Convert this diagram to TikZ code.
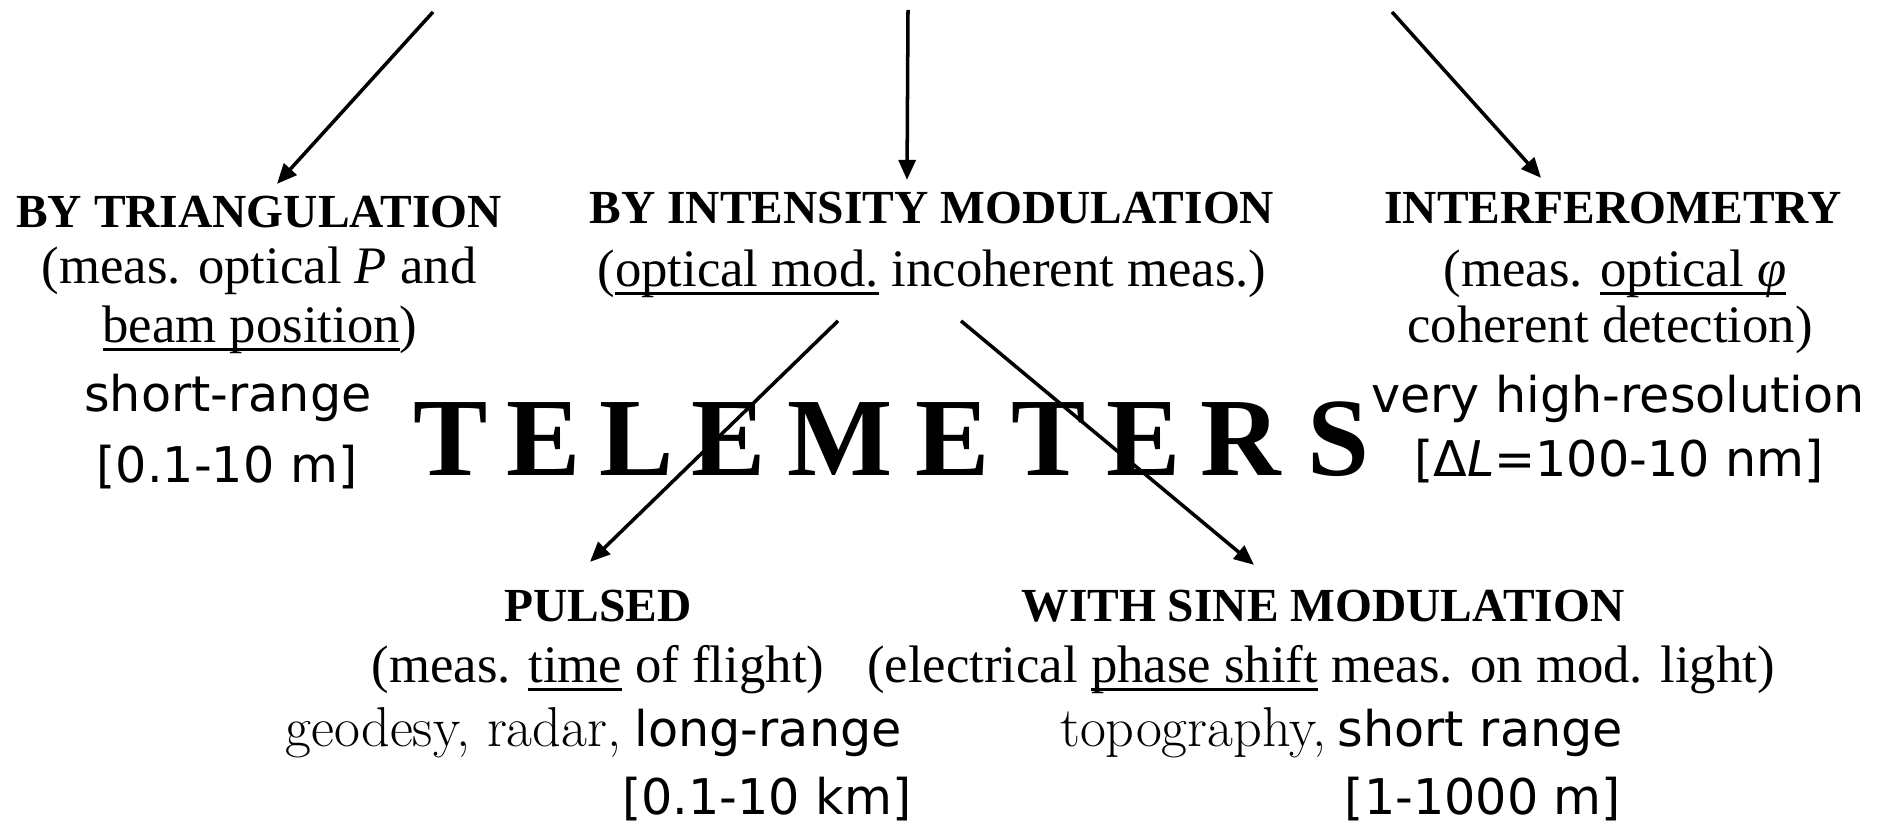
\documentclass[tikz,border=0pt]{standalone}
\usepackage{fontspec}
\setmainfont{Liberation Serif}
\newfontfamily\comicfont{DejaVu Sans}
\newfontfamily\palfont{Latin Modern Roman}
\usetikzlibrary{arrows.meta}
\newsavebox{\ulbox}
\newcommand{\undl}[1]{\sbox\ulbox{#1}\rlap{\rule[-2.2pt]{\wd\ulbox}{0.75pt}}\usebox\ulbox}

\begin{document}
\begin{tikzpicture}[x=1cm,y=1cm,
  head/.style={anchor=base,inner sep=0pt,font=\fontsize{13.5}{16}\selectfont\bfseries},
  desc/.style={anchor=base,inner sep=0pt,font=\fontsize{15}{18}\selectfont},
  usetxt/.style={anchor=base east,inner sep=0pt,font=\palfont\fontsize{16}{19}\selectfont},
  rangetxt/.style={anchor=base,inner sep=0pt,font=\comicfont\fontsize{14}{17}\selectfont},
  bigletter/.style={anchor=base,inner sep=0pt,font=\fontsize{31.7}{36}\selectfont\bfseries},
  arr/.style={-{Triangle[length=2mm,width=1.7mm]},line width=1pt}]
\path[use as bounding box] (0,0) rectangle (18.86,8.24);
\node[head] (tri) at (2.59,5.96) {BY TRIANGULATION};
\node[desc] (tridesc1) at (2.59,5.40) {(meas. optical \textit{P} and};
\node[desc] (tridesc2) at (2.60,4.81) {\undl{beam position})};
\node[rangetxt] (trirng1) at (2.28,4.12) {short-range};
\node[rangetxt] (trirng2) at (2.27,3.41) {[0.1-10 m]};
\node[head] (ints) at (9.32,6.00) {BY INTENSITY MODULATION};
\node[desc] (intdesc) at (9.32,5.37) {(\undl{optical mod.} incoherent meas.)};
\node[head] (ifm) at (16.13,6.00) {INTERFEROMETRY};
\node[desc] (ifmdesc1) at (16.15,5.37) {(meas. \undl{optical \textit{φ}}};
\node[desc] (ifmdesc2) at (16.10,4.81) {coherent detection)};
\node[rangetxt] (ifmrng1) at (16.18,4.11) {very high-resolution};
\node[rangetxt] (ifmrng2) at (16.19,3.47) {[Δ\textit{L}=100-10 nm]};
\foreach \ch/\xx [count=\i] in {T/4.51,E/5.44,L/6.37,E/7.29,M/8.40,E/9.53,T/10.49,E/11.44,R/12.41,S/13.38}
  \node[bigletter] (tel\i) at (\xx,3.48) {\ch};
\node[head] (puls) at (5.98,2.02) {PULSED};
\node[desc] (pulsdesc) at (5.98,1.41) {(meas. \undl{time} of flight)};
\node[usetxt] (pulsuse) at (6.22,0.77) {geodesy, radar,};
\node[rangetxt,anchor=base west] (pulsrng1) at (6.34,0.77) {long-range};
\node[rangetxt] (pulsrng2) at (7.67,0.09) {[0.1-10 km]};
\node[head] (sine) at (13.23,2.02) {WITH SINE MODULATION};
\node[desc] (sinedesc) at (13.21,1.41) {(electrical \undl{phase shift} meas. on mod. light)};
\node[usetxt] (sineuse) at (13.27,0.77) {topography,};
\node[rangetxt,anchor=base west] (sinerng1) at (13.37,0.77) {short range};
\node[rangetxt] (sinerng2) at (14.83,0.09) {[1-1000 m]};
\coordinate (triSrc) at (4.33,8.12);
\coordinate (intSrc) at (9.08,8.14);
\coordinate (ifmSrc) at (13.92,8.12);
\draw[arr] (triSrc) -- ([xshift=1.8mm,yshift=1.2mm]tri.north);
\draw[arr] (intSrc) -- ([xshift=-2.5mm,yshift=1.2mm]ints.north);
\draw[arr] (ifmSrc) -- ([xshift=-7.2mm,yshift=1.4mm]ifm.north);
\draw[arr] ([xshift=-9.4mm,yshift=-2.2mm]intdesc.south) -- ([xshift=-0.8mm,yshift=2.8mm]puls.north);
\draw[arr] ([xshift=2.9mm,yshift=-2.2mm]intdesc.south) -- ([xshift=-6.9mm,yshift=2.5mm]sine.north);
\end{tikzpicture}
\end{document}
